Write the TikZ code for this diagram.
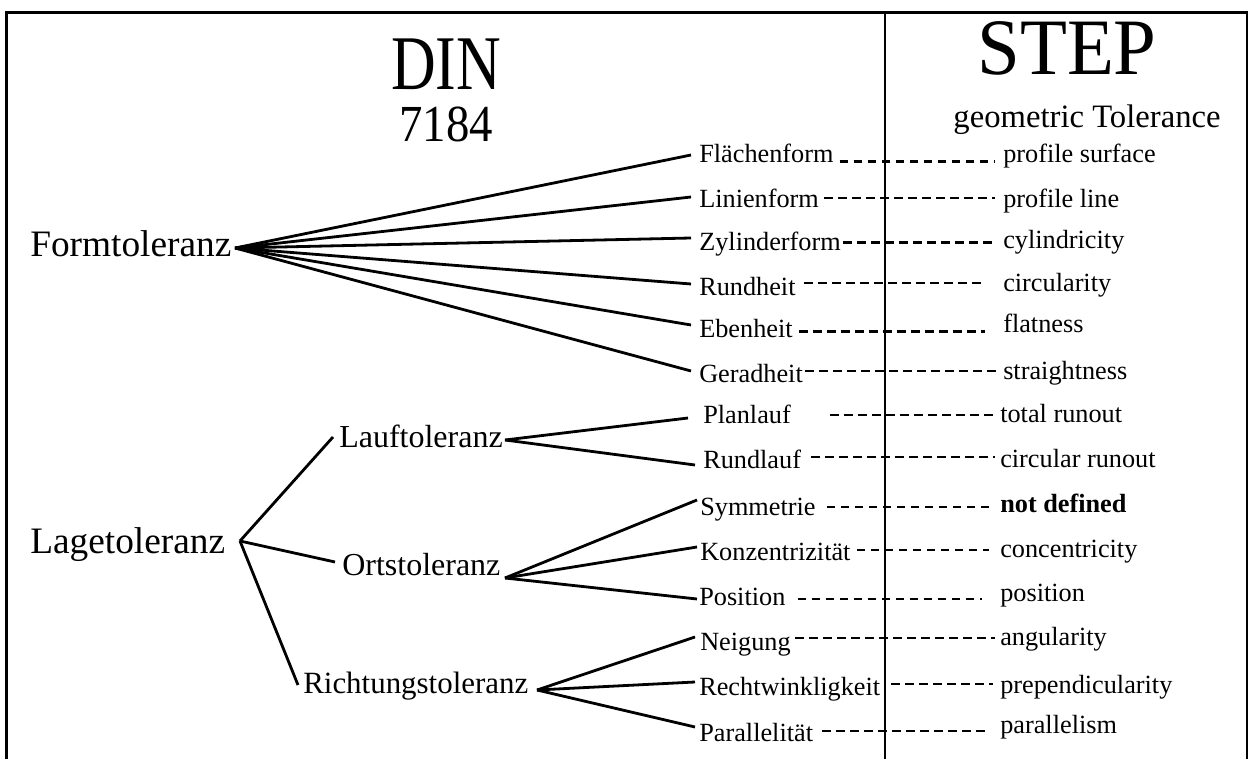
\documentclass[tikz,border=0pt]{standalone}
\usepackage{fontspec}
\setmainfont{Liberation Serif}
\usetikzlibrary{calc}
\tikzset{
  frameline/.style={line width=2.2pt},
  treeline/.style={line width=2.1pt},
  dashline/.style={line width=1.7pt, dash pattern=on 6.5pt off 4pt},
  mid/.style={anchor=base west, inner sep=0pt, font=\fontsize{19.7pt}{22pt}\selectfont},
  rgt/.style={anchor=base west, inner sep=0pt, font=\fontsize{19.7pt}{22pt}\selectfont},
  lvlone/.style={anchor=base west, inner sep=0pt, font=\fontsize{28pt}{32pt}\selectfont},
  lvltwo/.style={anchor=base west, inner sep=0pt, font=\fontsize{24pt}{28pt}\selectfont},
  ttl/.style={anchor=base, inner sep=0pt}
}
\newcommand\dashrow[4]{%
  \coordinate (s#1) at ($(m#1.base east)+(#2,-#4)$);
  \coordinate (e#1) at ($(r#1.base west)+(-#3,0)$);
  \draw[dashline] (s#1) -- (s#1 -| e#1);}
\begin{document}
\begin{tikzpicture}[x=0.75pt,y=-0.75pt]
\useasboundingbox (0,0) rectangle (1253,759);
% frame
\draw[frameline] (6.5,759) -- (6.5,12.5) -- (1247,12.5) -- (1247,759);
\draw[frameline] (885,12.5) -- (885,759);
% titles
\node[ttl] (din) at (446,90) {\vtop{\baselineskip=39pt\lineskiplimit=-100pt\lineskip=0pt
  \hbox to 100pt{\hss\fontsize{58pt}{58pt}\selectfont\scalebox{0.8}[1]{DIN}\hss}
  \hbox to 100pt{\hss\fontsize{39pt}{39pt}\selectfont\scalebox{0.9}[1]{7184}\hss}}};
\node[ttl, font=\fontsize{60pt}{64pt}\selectfont] (step) at (1067,75) {\scalebox{0.96}[1]{STEP}};
\node[ttl, font=\fontsize{24.5pt}{28pt}\selectfont] (geo) at (1087,128) {geometric Tolerance};
% level one
\node[lvlone] (F) at (30,257) {Formtoleranz};
\node[lvlone] (L) at (30,553) {Lagetoleranz};
% level two
\node[lvltwo] (LA) at (339,447) {Lauftoleranz};
\node[lvltwo] (O) at (342,575) {Ortstoleranz};
\node[lvltwo, font=\fontsize{23.2pt}{26pt}\selectfont] (R) at (303,693) {Richtungstoleranz};
% middle column
\node[mid] (m1) at (699,163) {Flächenform};
\node[mid] (m2) at (699,208) {Linienform};
\node[mid] (m3) at (699,251) {Zylinderform};
\node[mid] (m4) at (699,296) {Rundheit};
\node[mid] (m5) at (699,338) {Ebenheit};
\node[mid] (m6) at (699,382) {Geradheit};
\node[mid] (m7) at (703,423) {Planlauf};
\node[mid] (m8) at (703,468) {Rundlauf};
\node[mid] (m9) at (700,515) {Symmetrie};
\node[mid] (m10) at (700,560) {Konzentrizität};
\node[mid] (m11) at (699,605) {Position};
\node[mid] (m12) at (700,650) {Neigung};
\node[mid] (m13) at (699,695) {Rechtwinkligkeit};
\node[mid] (m14) at (699,741) {Parallelität};
% right column
\node[rgt] (r1) at (1003,163) {profile surface};
\node[rgt] (r2) at (1003,208) {profile line};
\node[rgt] (r3) at (1003,249) {cylindricity};
\node[rgt] (r4) at (1003,292) {circularity};
\node[rgt] (r5) at (1003,333) {flatness};
\node[rgt] (r6) at (1003,379) {straightness};
\node[rgt] (r7) at (1000,422) {total runout};
\node[rgt] (r8) at (1000,467) {circular runout};
\node[rgt] (r9) at (1000,512) {\bfseries not defined};
\node[rgt] (r10) at (1000,557) {concentricity};
\node[rgt] (r11) at (1000,601) {position};
\node[rgt] (r12) at (1000,645) {angularity};
\node[rgt] (r13) at (1000,693) {prependicularity};
\node[rgt] (r14) at (1000,733) {parallelism};
% apex points
\coordinate (fA) at (235,248);
\coordinate (lA) at (240,541);
\coordinate (laA) at (505,440);
\coordinate (oA) at (505,578);
\coordinate (rA) at (537,690);
% tree connectors
\draw[treeline] (fA) -- ($(m1.base west)+(-8,-8)$);
\draw[treeline] (fA) -- ($(m2.base west)+(-8,-11)$);
\draw[treeline] (fA) -- ($(m3.base west)+(-8,-13)$);
\draw[treeline] (fA) -- ($(m4.base west)+(-8,-12)$);
\draw[treeline] (fA) -- ($(m5.base west)+(-8,-13)$);
\draw[treeline] (fA) -- ($(m6.base west)+(-8,-11)$);
\draw[treeline] (lA) -- ($(LA.base west)+(-6,-10)$);
\draw[treeline] (lA) -- ($(O.base west)+(-7,-13)$);
\draw[treeline] (lA) -- ($(R.base west)+(-5,-8)$);
\draw[treeline] (laA) -- ($(m7.base west)+(-15,-5)$);
\draw[treeline] (laA) -- ($(m8.base west)+(-8,-3)$);
\draw[treeline] (oA) -- ($(m9.base west)+(-3,-15)$);
\draw[treeline] (oA) -- ($(m10.base west)+(-3,-13)$);
\draw[treeline] (oA) -- ($(m11.base west)+(-2,-6)$);
\draw[treeline] (rA) -- ($(m12.base west)+(-5,-13)$);
\draw[treeline] (rA) -- ($(m13.base west)+(-4,-13)$);
\draw[treeline] (rA) -- ($(m14.base west)+(-4,-14)$);
% dashed links
\dashrow{1}{6}{8}{1.6}
\dashrow{2}{5}{8}{10}
\dashrow{3}{2}{8}{8.4}
\dashrow{4}{8}{18}{12.7}
\dashrow{5}{6}{18}{6.6}
\dashrow{6}{2}{7}{11}
\dashrow{7}{39}{5}{8.3}
\dashrow{8}{10}{5}{11}
\dashrow{9}{11}{11}{8.3}
\dashrow{10}{6}{11}{10}
\dashrow{11}{12}{18}{6}
\dashrow{12}{4}{5}{11.7}
\dashrow{13}{11}{7}{11}
\dashrow{14}{9}{11}{10}
\end{tikzpicture}
\end{document}
